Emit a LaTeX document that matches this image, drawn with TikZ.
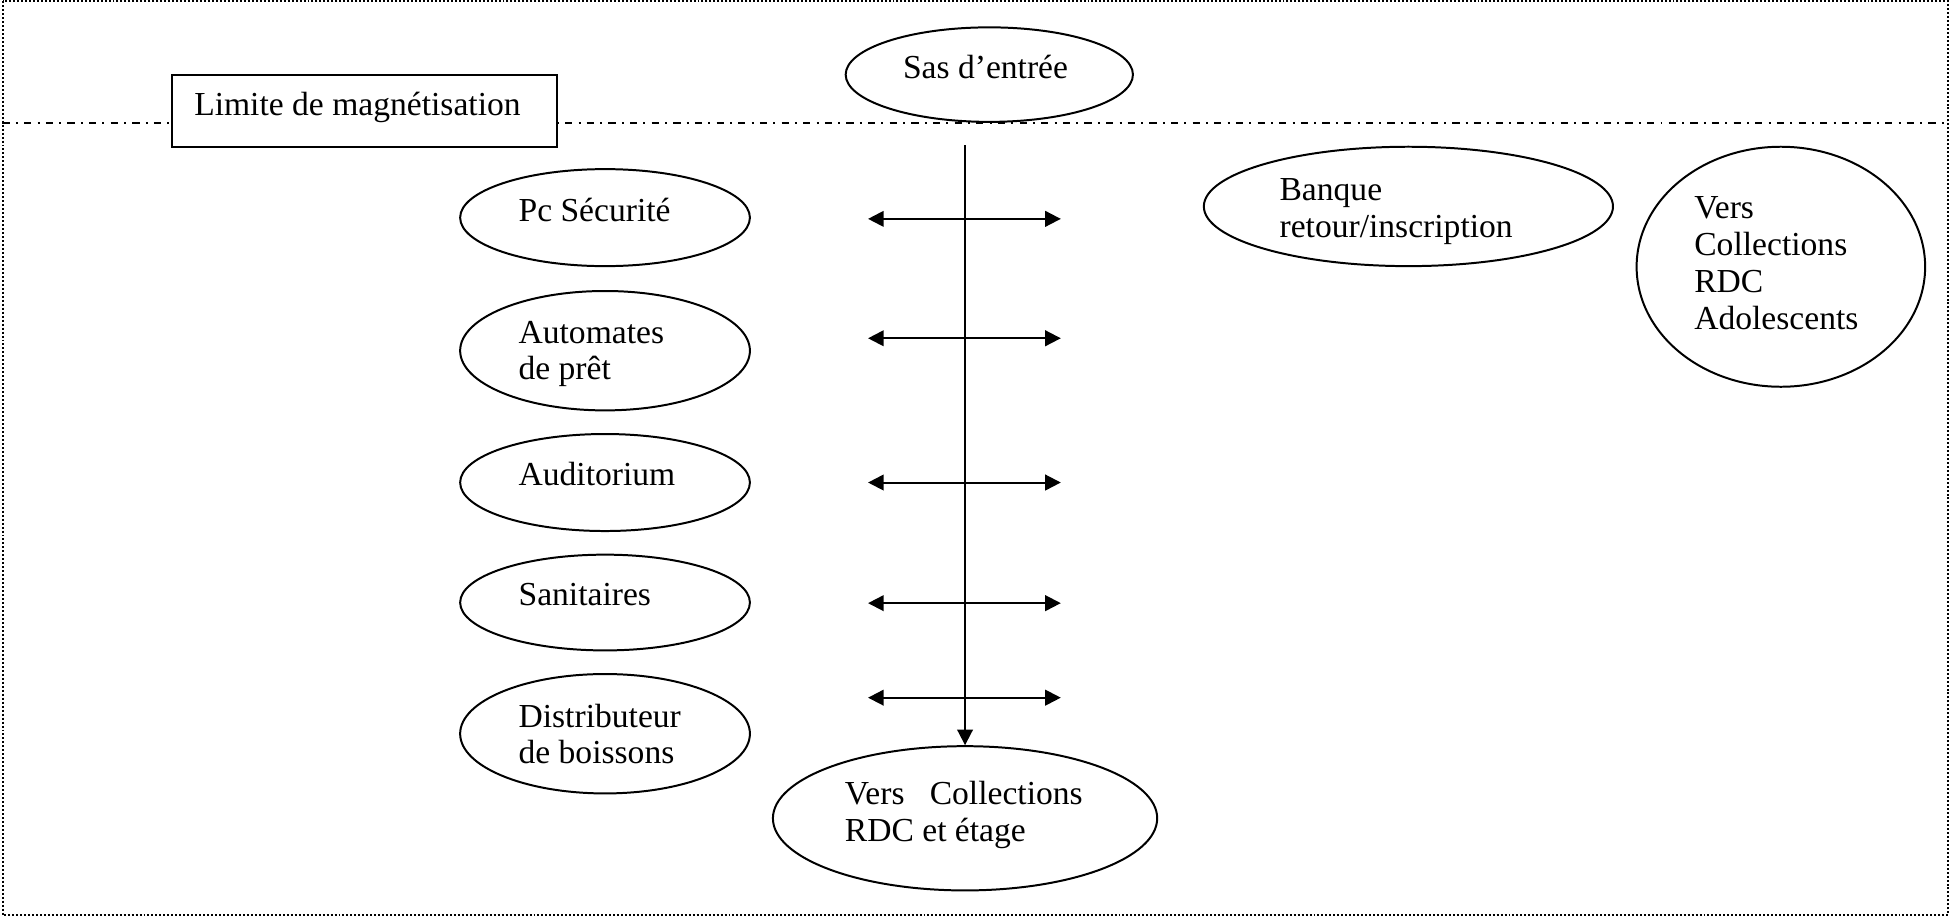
\documentclass[tikz,border=0pt]{standalone}
\usepackage{fontspec}
\setmainfont{Liberation Serif}
\usetikzlibrary{shapes.geometric,arrows.meta}
\begin{document}
\begin{tikzpicture}[x=0.5pt,y=-0.5pt,
  ell/.style={draw,ellipse,line width=0.8pt,inner sep=0pt},
  lbl/.style={anchor=base west,inner sep=0pt,align=left,font=\fontsize{13.5}{14.8}\selectfont},
  biarrow/.style={{Triangle[length=6.3pt,width=6.3pt]}-{Triangle[length=6.3pt,width=6.3pt]},line width=0.8pt},
  downarrow/.style={-{Triangle[length=6.3pt,width=6.3pt]},line width=0.8pt},
  framestyle/.style={line width=0.8pt,dash pattern=on 0.8pt off 0.8pt},
  limitline/.style={line width=0.8pt,dash pattern=on 2.9pt off 2.5pt on 0.8pt off 2.5pt},
  boxstyle/.style={draw,fill=white,line width=0.8pt,inner sep=0pt,minimum width=155pt,minimum height=29pt}
]
\useasboundingbox (0,0) rectangle (1568,737);
% frame
\draw[framestyle] (2.4,1) rectangle (1566.6,736);
% limit line
\coordinate (ll) at (2,98.6);
\coordinate (lr) at (1566,98.6);
\draw[limitline] (ll) -- (lr);
% box
\node[boxstyle] (limite) at (293,89) {};
\node[lbl] (limitetxt) at (155.8,92.5) {Limite de magnétisation};
% ellipses (multi-line labels are placed by the baseline of their last line)
\node[ell,minimum width=115.5pt,minimum height=38pt] (sas) at (795.5,60) {};
\node[lbl] (sastxt) at (725.7,63) {Sas d’entrée};
\node[ell,minimum width=116.5pt,minimum height=39pt] (pc) at (486.5,175) {};
\node[lbl] (pctxt) at (416.6,178) {Pc Sécurité};
\node[ell,minimum width=116.5pt,minimum height=48pt] (auto) at (486.5,282) {};
\node[lbl] (autotxt) at (416.6,305.5) {Automates\\de prêt};
\node[ell,minimum width=116.5pt,minimum height=39pt] (audi) at (486.5,388) {};
\node[lbl] (auditxt) at (416.6,390) {Auditorium};
\node[ell,minimum width=116.5pt,minimum height=38.5pt] (sani) at (486.5,484.5) {};
\node[lbl] (sanitxt) at (416.6,486.5) {Sanitaires};
\node[ell,minimum width=116.5pt,minimum height=48pt] (dist) at (486.5,590) {};
\node[lbl] (disttxt) at (416.6,614.3) {Distributeur\\de boissons};
\node[ell,minimum width=164.5pt,minimum height=48pt] (banque) at (1132.5,166) {};
\node[lbl] (banquetxt) at (1028.5,191) {Banque\\retour/inscription};
\node[ell,minimum width=116pt,minimum height=96.5pt] (adol) at (1432,214.5) {};
\node[lbl] (adoltxt) at (1362,264.8) {Vers\\Collections\\RDC\\Adolescents};
\node[ell,minimum width=154.5pt,minimum height=58pt] (rdc) at (776,658) {};
\node[lbl] (rdctxt) at (679,676.7) {Vers\ \ \ Collections\\RDC et étage};
% vertical arrow
\coordinate (vtop) at (776,117);
\draw[downarrow] (vtop) -- (rdc.north);
% horizontal double arrows
\foreach \yy/\nm in {176/a,272/b,388/c,485/d,561/e}{
  \coordinate (\nm l) at (698,\yy);
  \coordinate (\nm r) at (853,\yy);
  \draw[biarrow] (\nm l) -- (\nm r);
}
\end{tikzpicture}
\end{document}
